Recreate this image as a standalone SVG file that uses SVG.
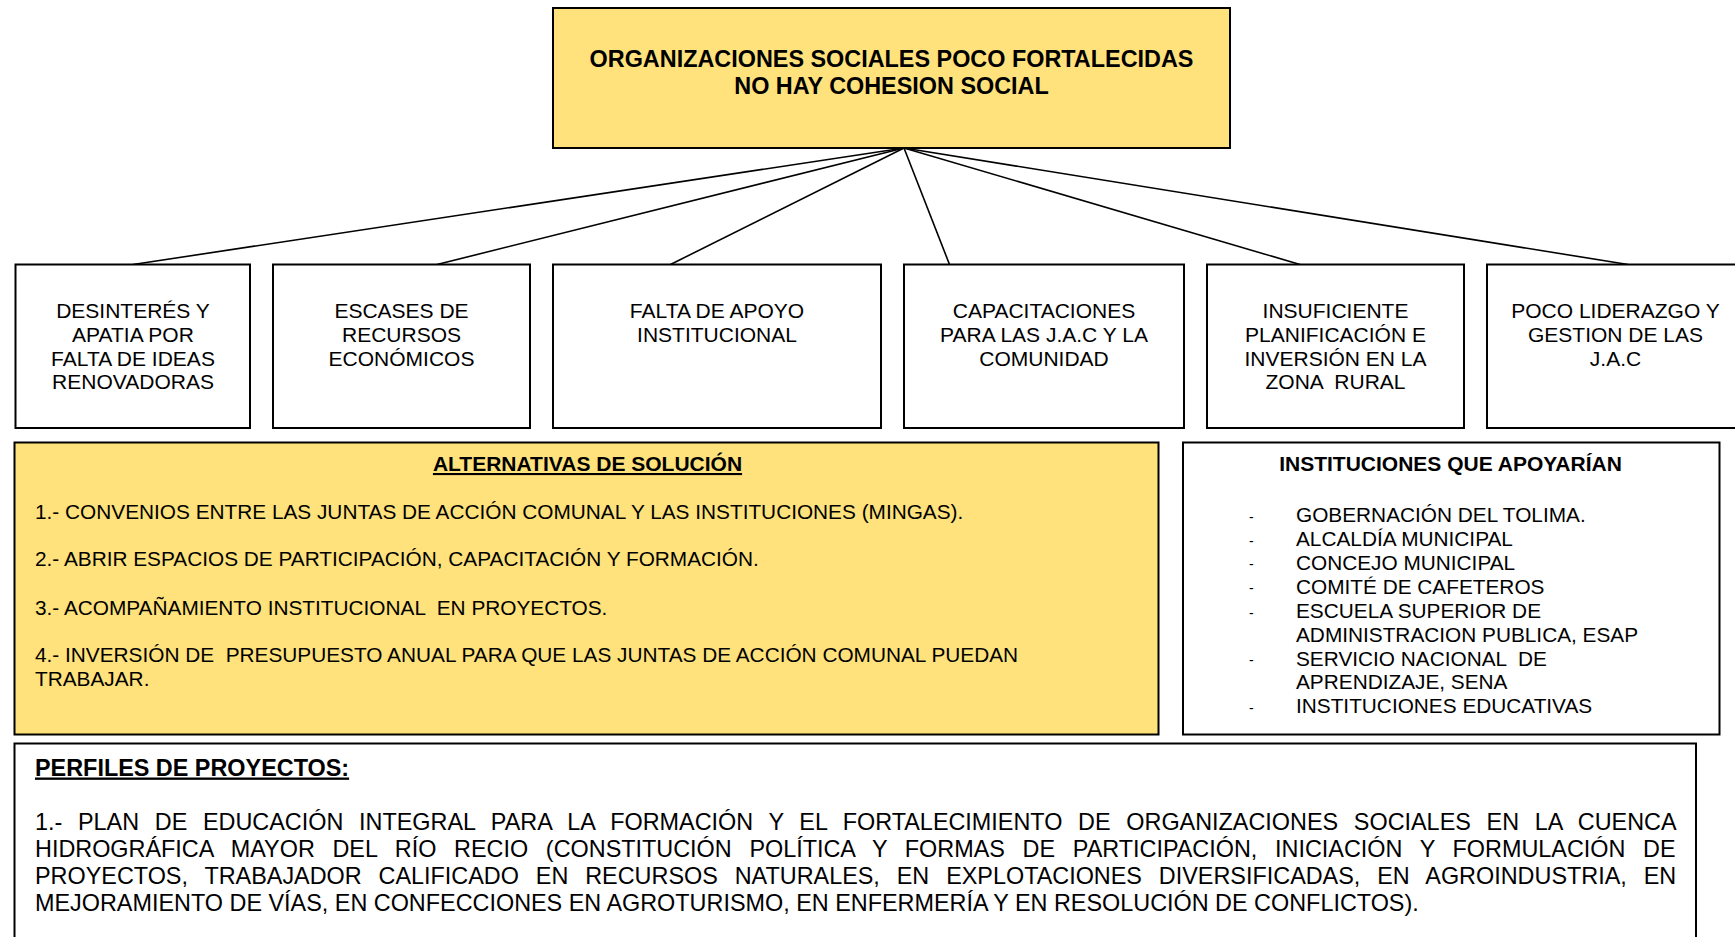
<svg xmlns="http://www.w3.org/2000/svg" width="1735" height="937" viewBox="0 0 1735 937">
<style>
text{font-family:"Liberation Sans",Arial,sans-serif;fill:#000;white-space:pre}
.box{fill:#fff;stroke:#000;stroke-width:2}
.yel{fill:#FFE27B;stroke:#000;stroke-width:2}
.t{font-size:21px;text-anchor:middle}
.b{font-weight:bold}
.it{font-size:20.8px}
.p{font-size:23.4px}
.conn line{stroke:#000;stroke-width:1.6}
</style>
<rect width="1735" height="937" fill="#fff"/>
<g class="conn" id="connectors">
<line x1="904" y1="148" x2="133" y2="264.5"/>
<line x1="904" y1="148" x2="437" y2="264.5"/>
<line x1="904" y1="148" x2="670.5" y2="264.5"/>
<line x1="904" y1="148" x2="949.5" y2="264.5"/>
<line x1="904" y1="148" x2="1300" y2="264.5"/>
<line x1="904" y1="148" x2="1628" y2="264.5"/>
</g>
<g id="root">
<rect class="yel" x="553" y="8" width="677" height="140"/>
<text class="t b" x="891.5" y="67" style="font-size:23.4px">ORGANIZACIONES SOCIALES POCO FORTALECIDAS</text>
<text class="t b" x="891.5" y="94" style="font-size:23.4px">NO HAY COHESION SOCIAL</text>
</g>
<g id="n1">
<rect class="box" x="15.5" y="264.5" width="234.5" height="163.5"/>
<text class="t" x="133" y="318">DESINTERÉS Y</text>
<text class="t" x="133" y="341.5">APATIA POR</text>
<text class="t" x="133" y="365.5">FALTA DE IDEAS</text>
<text class="t" x="133" y="389">RENOVADORAS</text>
</g>
<g id="n2">
<rect class="box" x="273" y="264.5" width="257" height="163.5"/>
<text class="t" x="401.5" y="318">ESCASES DE</text>
<text class="t" x="401.5" y="341.5">RECURSOS</text>
<text class="t" x="401.5" y="365.5">ECONÓMICOS</text>
</g>
<g id="n3">
<rect class="box" x="553" y="264.5" width="328" height="163.5"/>
<text class="t" x="717" y="318">FALTA DE APOYO</text>
<text class="t" x="717" y="341.5">INSTITUCIONAL</text>
</g>
<g id="n4">
<rect class="box" x="904" y="264.5" width="280" height="163.5"/>
<text class="t" x="1044" y="318">CAPACITACIONES</text>
<text class="t" x="1044" y="341.5">PARA LAS J.A.C Y LA</text>
<text class="t" x="1044" y="365.5">COMUNIDAD</text>
</g>
<g id="n5">
<rect class="box" x="1207" y="264.5" width="257" height="163.5"/>
<text class="t" x="1335.5" y="318">INSUFICIENTE</text>
<text class="t" x="1335.5" y="341.5">PLANIFICACIÓN E</text>
<text class="t" x="1335.5" y="365.5">INVERSIÓN EN LA</text>
<text class="t" x="1335.5" y="389">ZONA  RURAL</text>
</g>
<g id="n6">
<rect class="box" x="1487" y="264.5" width="260" height="163.5"/>
<text class="t" x="1615.5" y="318">POCO LIDERAZGO Y</text>
<text class="t" x="1615.5" y="341.5">GESTION DE LAS</text>
<text class="t" x="1615.5" y="365.5">J.A.C</text>
</g>
<g id="alternativas">
<rect class="yel" x="14.5" y="442.5" width="1144" height="292"/>
<text class="t b" x="587.5" y="471" text-decoration="underline">ALTERNATIVAS DE SOLUCIÓN</text>
<text class="it" x="35" y="518.5">1.- CONVENIOS ENTRE LAS JUNTAS DE ACCIÓN COMUNAL Y LAS INSTITUCIONES (MINGAS).</text>
<text class="it" x="35" y="566">2.- ABRIR ESPACIOS DE PARTICIPACIÓN, CAPACITACIÓN Y FORMACIÓN.</text>
<text class="it" x="35" y="614.5">3.- ACOMPAÑAMIENTO INSTITUCIONAL  EN PROYECTOS.</text>
<text class="it" x="35" y="662">4.- INVERSIÓN DE  PRESUPUESTO ANUAL PARA QUE LAS JUNTAS DE ACCIÓN COMUNAL PUEDAN</text>
<text class="it" x="35" y="685.5">TRABAJAR.</text>
</g>
<g id="instituciones">
<rect class="box" x="1183" y="442.5" width="536.5" height="292"/>
<text class="t b" x="1450.5" y="471">INSTITUCIONES QUE APOYARÍAN</text>
<g class="it">
<text x="1249" y="521.5" font-size="14">-</text>
<text x="1249" y="545.5" font-size="14">-</text>
<text x="1249" y="569" font-size="14">-</text>
<text x="1249" y="593" font-size="14">-</text>
<text x="1249" y="617.5" font-size="14">-</text>
<text x="1249" y="665" font-size="14">-</text>
<text x="1249" y="713" font-size="14">-</text>
</g>
<text class="it" x="1296" y="522">GOBERNACIÓN DEL TOLIMA.</text>
<text class="it" x="1296" y="546">ALCALDÍA MUNICIPAL</text>
<text class="it" x="1296" y="569.5">CONCEJO MUNICIPAL</text>
<text class="it" x="1296" y="593.5">COMITÉ DE CAFETEROS</text>
<text class="it" x="1296" y="618">ESCUELA SUPERIOR DE</text>
<text class="it" x="1296" y="641.5">ADMINISTRACION PUBLICA, ESAP</text>
<text class="it" x="1296" y="665.5">SERVICIO NACIONAL  DE</text>
<text class="it" x="1296" y="689">APRENDIZAJE, SENA</text>
<text class="it" x="1296" y="713">INSTITUCIONES EDUCATIVAS</text>
</g>
<g id="perfiles">
<rect class="box" x="14.5" y="743.5" width="1681.5" height="210"/>
<text class="b" x="35" y="775.5" style="font-size:23.4px" text-decoration="underline">PERFILES DE PROYECTOS:</text>
<text class="p" x="35" y="830" word-spacing="9.2">1.- PLAN DE EDUCACIÓN INTEGRAL PARA LA FORMACIÓN Y EL FORTALECIMIENTO DE ORGANIZACIONES SOCIALES EN LA CUENCA</text>
<text class="p" x="35" y="857" word-spacing="11.2">HIDROGRÁFICA MAYOR DEL RÍO RECIO (CONSTITUCIÓN POLÍTICA Y FORMAS DE PARTICIPACIÓN, INICIACIÓN Y FORMULACIÓN DE</text>
<text class="p" x="35" y="884" word-spacing="10.4">PROYECTOS, TRABAJADOR CALIFICADO EN RECURSOS NATURALES, EN EXPLOTACIONES DIVERSIFICADAS, EN AGROINDUSTRIA, EN</text>
<text class="p" x="35" y="911">MEJORAMIENTO DE VÍAS, EN CONFECCIONES EN AGROTURISMO, EN ENFERMERÍA Y EN RESOLUCIÓN DE CONFLICTOS).</text>
</g>
</svg>
